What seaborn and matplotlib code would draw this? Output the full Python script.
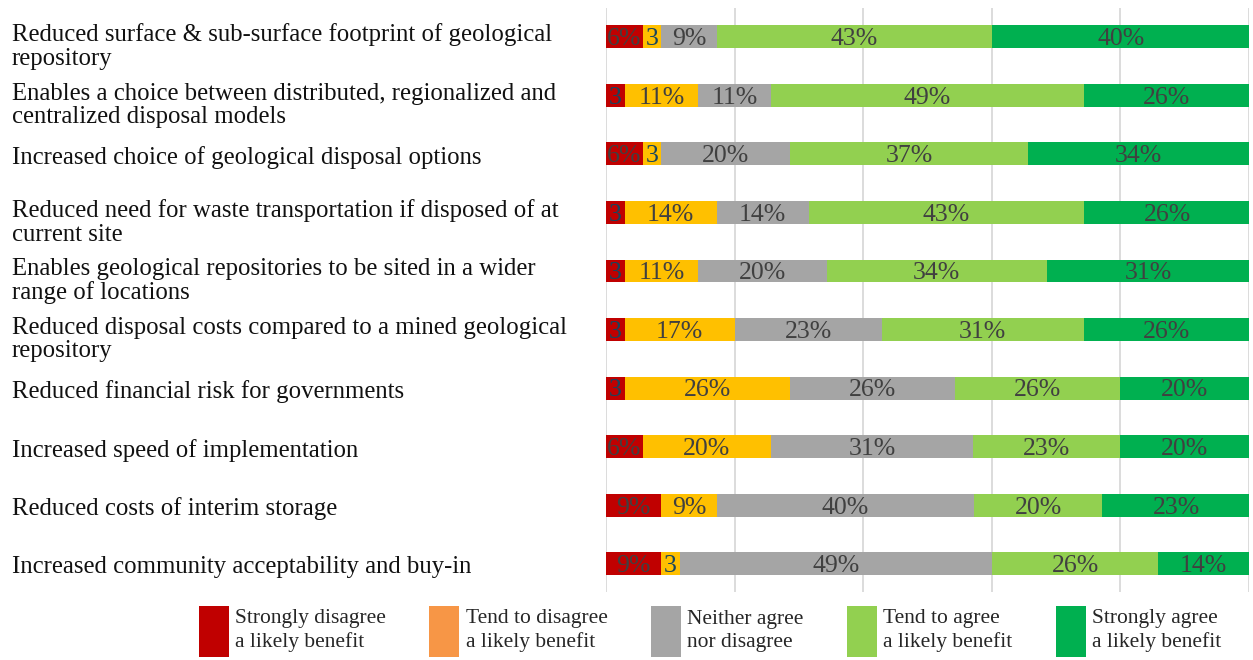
import matplotlib
matplotlib.use("Agg")
import matplotlib.pyplot as plt
import seaborn as sns
import pandas as pd
from matplotlib.patches import Patch
from matplotlib.transforms import blended_transform_factory

statements = [
    "Reduced surface & sub-surface footprint of geological\nrepository",
    "Enables a choice between distributed, regionalized and\ncentralized disposal models",
    "Increased choice of geological disposal options",
    "Reduced need for waste transportation if disposed of at\ncurrent site",
    "Enables geological repositories to be sited in a wider\nrange of locations",
    "Reduced disposal costs compared to a mined geological\nrepository",
    "Reduced financial risk for governments",
    "Increased speed of implementation",
    "Reduced costs of interim storage",
    "Increased community acceptability and buy-in",
]
strongly_disagree = [5.7, 2.9, 5.7, 2.9, 2.9, 2.9, 2.9, 5.7, 8.6, 8.6]
tend_disagree = [2.9, 11.4, 2.9, 14.3, 11.4, 17.1, 25.7, 20.0, 8.6, 2.9]
neither = [8.6, 11.4, 20.0, 14.3, 20.0, 22.9, 25.7, 31.4, 40.0, 48.6]
tend_agree = [42.9, 48.6, 37.1, 42.9, 34.3, 31.4, 25.7, 22.9, 20.0, 25.7]
strongly_agree = [40.0, 25.7, 34.3, 25.7, 31.4, 25.7, 20.0, 20.0, 22.9, 14.3]

legend_labels = [
    "Strongly disagree\na likely benefit",
    "Tend to disagree\na likely benefit",
    "Neither agree\nnor disagree",
    "Tend to agree\na likely benefit",
    "Strongly agree\na likely benefit",
]
bar_colors = ["#C00000", "#FFC000", "#A5A5A5", "#92D050", "#00B050"]
legend_colors = ["#C00000", "#F79646", "#A5A5A5", "#92D050", "#00B050"]

sns.set_theme(style="white")
plt.rcParams["font.family"] = ["Liberation Serif", "DejaVu Serif"]

series = [strongly_disagree, tend_disagree, neither, tend_agree, strongly_agree]
keys = ["s_dis", "t_dis", "neither", "t_agr", "s_agr"]
df = pd.DataFrame({"statement": statements})
for k, s in zip(keys, series):
    df[k] = s
cum = df[keys].cumsum(axis=1)
for k in keys:
    df["cum_" + k] = cum[k]

fig = plt.figure(figsize=(12.53, 6.6), dpi=100)
ax = fig.add_axes([606 / 1253, 1 - 592 / 660, 643 / 1253, 584 / 660])

bar_h = 0.39
for k, c in reversed(list(zip(keys, bar_colors))):
    sns.barplot(data=df, x="cum_" + k, y="statement", orient="h", color=c,
                saturation=1, width=bar_h, linewidth=0, ax=ax, zorder=2)

ax.set_xlim(0, 100)
ax.set_ylim(9.48, -0.49)
ax.set_xticks([0, 20, 40, 60, 80, 100])
ax.set_xticklabels([])
ax.set_yticks([])
ax.set_xlabel("")
ax.set_ylabel("")
ax.tick_params(length=0)
ax.xaxis.grid(True, color="#D9D9D9", linewidth=1.3, zorder=0)
ax.set_axisbelow(True)
for sp in ax.spines.values():
    sp.set_visible(False)

# value labels
for i in range(len(statements)):
    left = 0.0
    for k in keys:
        v = df.loc[i, k]
        center = left + v / 2
        if v < 4:
            txt, col = "3", "#17455E"
        else:
            txt, col = f"{v:.0f}%", "#404040"
        ax.text(center, i + 0.04, txt, ha="center", va="center",
                fontsize=18.5, color=col, zorder=5)
        left += v

# category labels on the left
trans = blended_transform_factory(fig.transFigure, ax.transData)
for i, s in enumerate(statements):
    off = 0.17 if "\n" in s else 0.06
    ax.text(12 / 1253, i + off, s, transform=trans, ha="left", va="center",
            fontsize=17.8, color="#111111", linespacing=1.08)

handles = [Patch(facecolor=c, edgecolor="none") for c in legend_colors]
leg = fig.legend(handles, legend_labels, loc="lower left",
                 bbox_to_anchor=(190 / 1253, -6 / 660), ncol=5, frameon=False,
                 fontsize=15.5, handlelength=1.4, handleheight=3.3,
                 handletextpad=0.3, columnspacing=2.0, borderaxespad=0.0,
                 labelcolor="#262626", labelspacing=0.2)
for t in leg.get_texts():
    t.set_linespacing(1.3)

fig.savefig("out.png", dpi=100)
